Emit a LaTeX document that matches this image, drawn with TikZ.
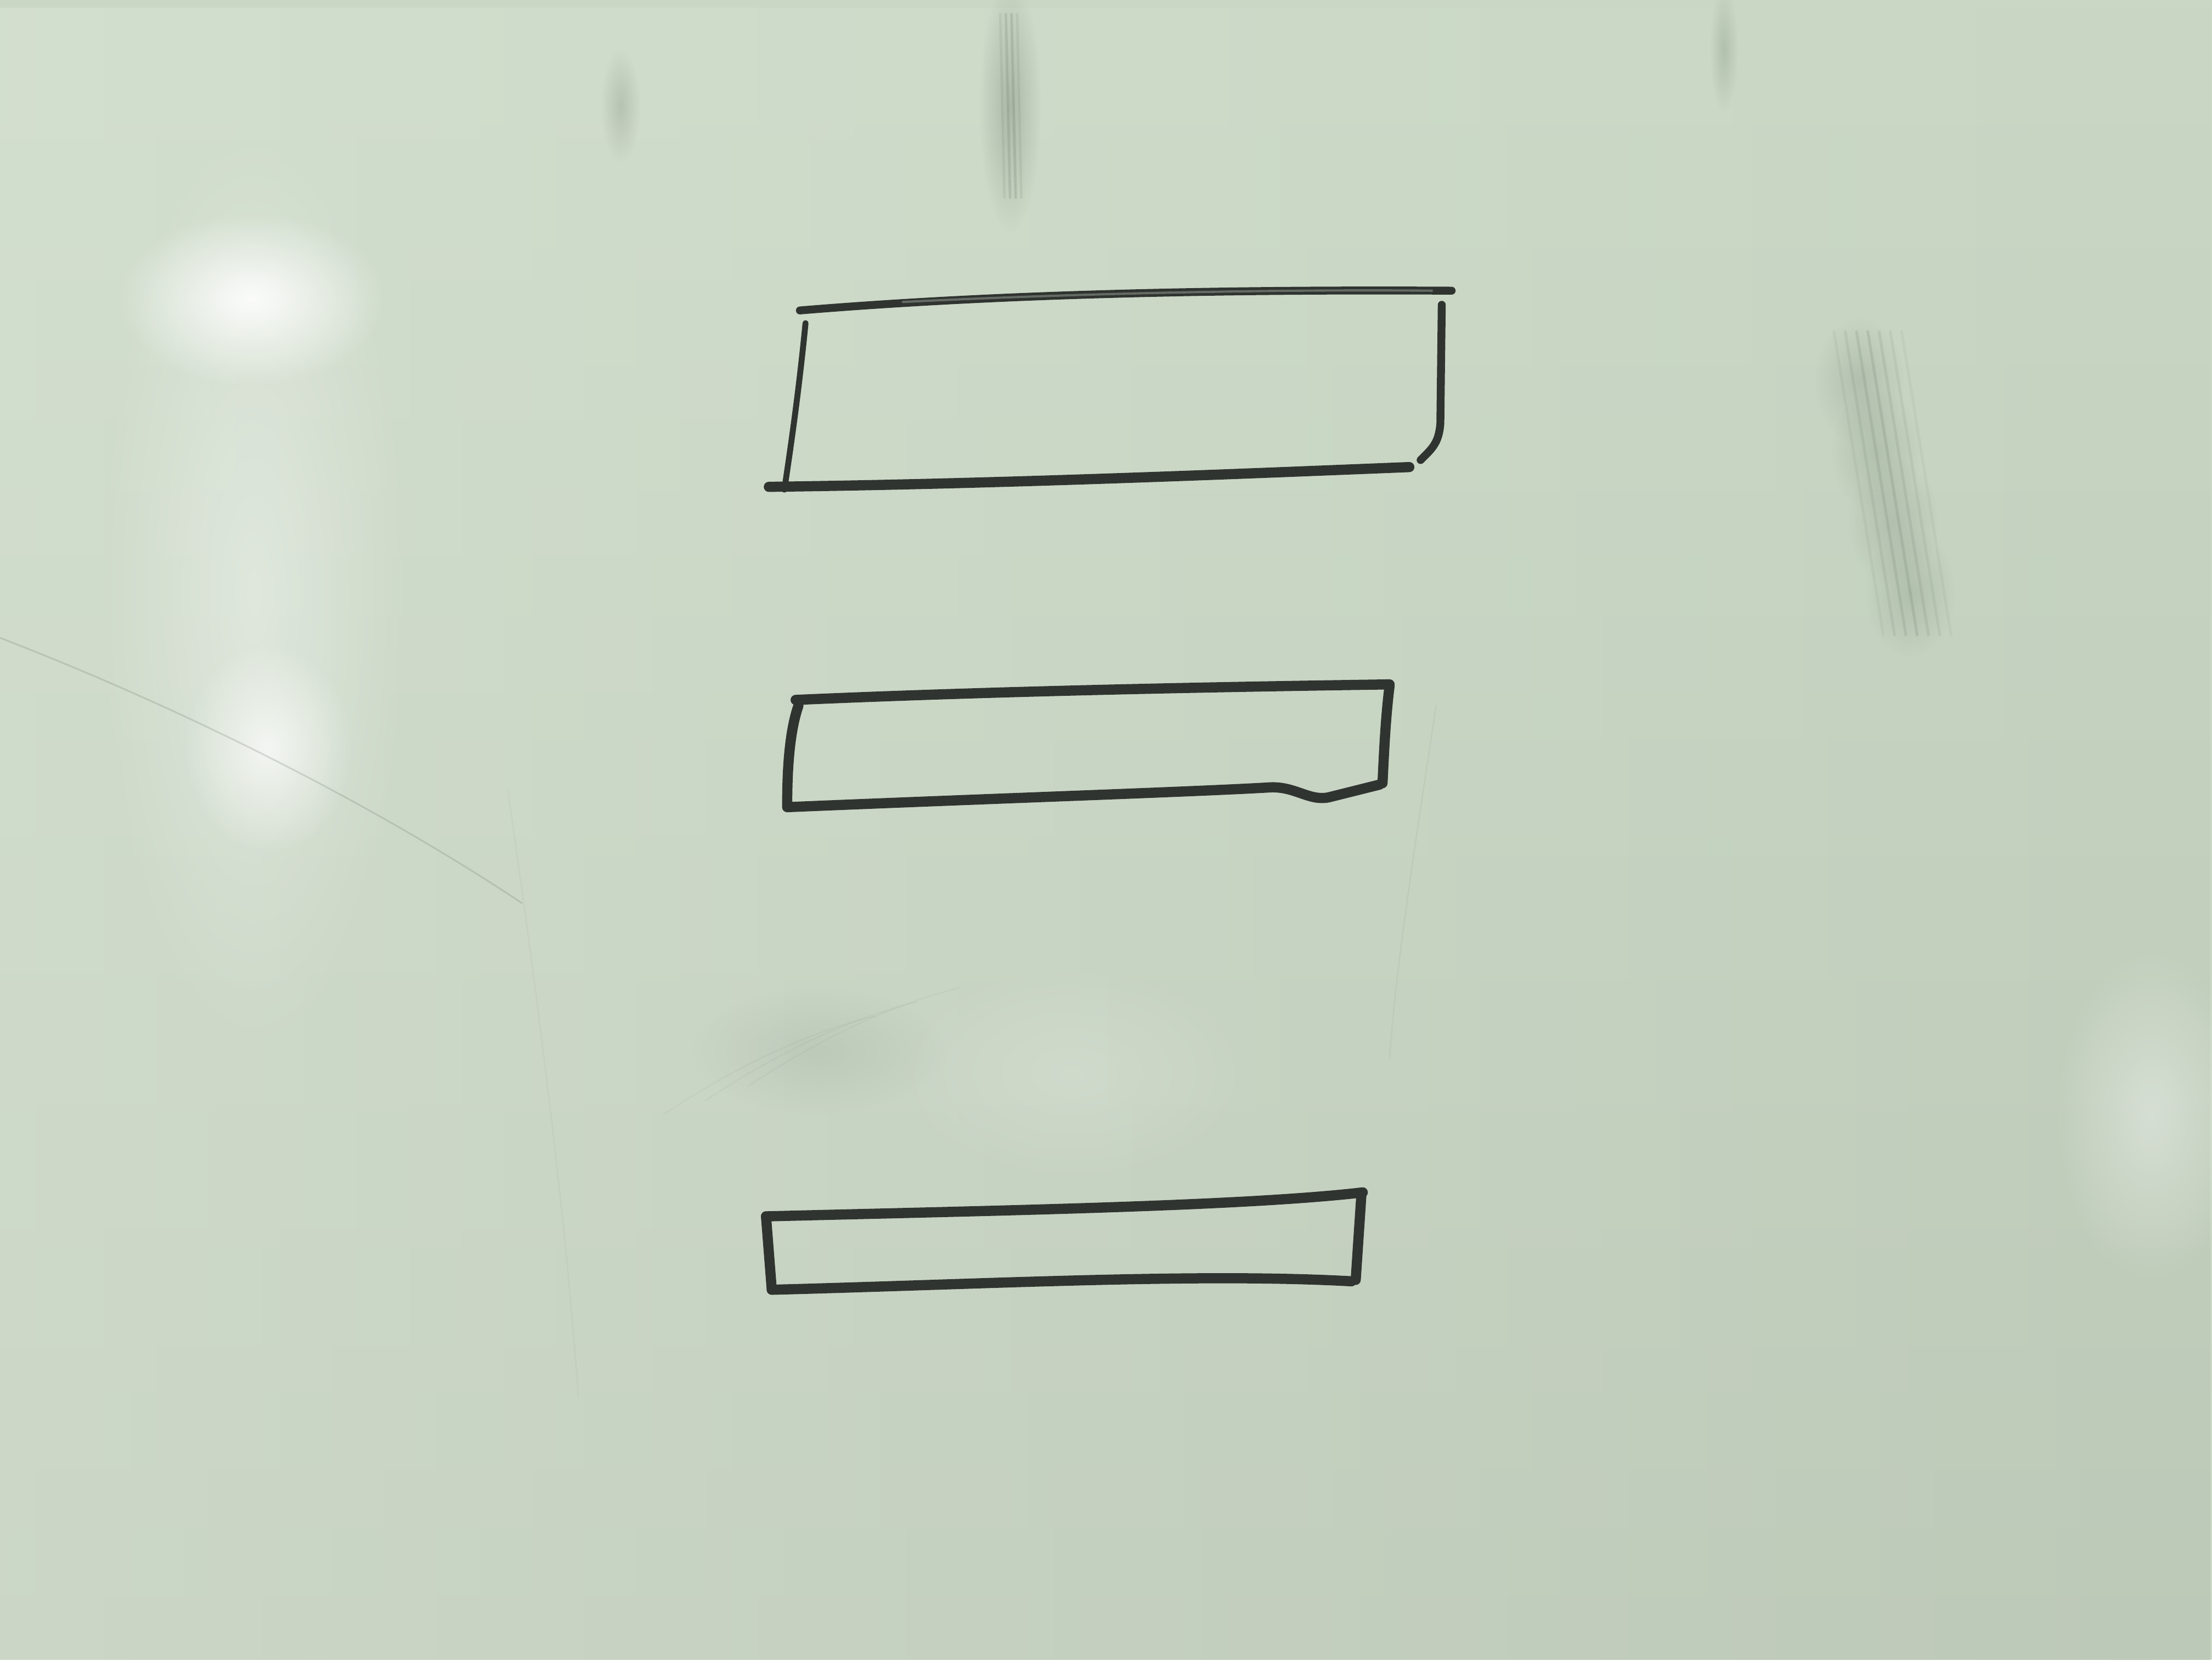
\documentclass[tikz,border=0pt]{standalone}
\usetikzlibrary{fadings}
\definecolor{board}{RGB}{201,215,196}
\definecolor{boardlight}{RGB}{232,240,228}
\definecolor{boarddark}{RGB}{186,198,181}
\definecolor{ink}{RGB}{48,52,48}
\definecolor{inkmid}{RGB}{100,106,100}
\definecolor{smear}{RGB}{105,118,104}
\tikzfading[name=softglow,inner color=transparent!0,outer color=transparent!100]
\begin{document}
\begin{tikzpicture}[x=1mm,y=-1mm,
  pen/.style={draw=ink,line width=7.2mm,line cap=round,line join=round},
  thinpen/.style={draw=ink,line width=5.6mm,line cap=round,line join=round},
  glare/.style={fill=white,opacity=#1,path fading=softglow},
  smudge/.style={draw=smear,line cap=round,opacity=#1},
  haze/.style={fill=smear,opacity=#1,path fading=softglow}]
\useasboundingbox (0,0) rectangle (1568,1176);
% whiteboard background
\fill[board] (0,0) rectangle (1568,1176);
\fill[boarddark,path fading=north,opacity=.8] (0,0) rectangle (1568,1176);
\fill[boardlight,path fading=east,opacity=.35] (0,0) rectangle (1568,1176);
% glare patches
\fill[glare=.35] (180,420) ellipse (110 and 330);
\fill[glare=.9] (178,212) ellipse (95 and 62);
\fill[glare=.7] (190,530) ellipse (60 and 75);
\fill[glare=.35] (1525,790) ellipse (70 and 120);
\fill[glare=.15] (760,760) ellipse (130 and 80);
% eraser smears and faint scratches
\fill[haze=.35] (716,75) ellipse (22 and 90);
\foreach \dx/\op in {-5/.12,-1/.2,3/.22,7/.12}
  \draw[smudge=\op,line width=1.8mm] (714+\dx,10) -- (717+\dx,140);
\foreach \cx/\cy in {1318/270,1330/320,1342/370,1354/420}
  \fill[haze=.22] (\cx,\cy) ellipse (32 and 45);
\foreach \dx/\op in {0/.08,8/.12,16/.16,24/.18,32/.14,40/.1,48/.07}
  \draw[smudge=\op,line width=2mm] (1300+\dx,235) -- (1335+\dx,450);
\fill[haze=.25] (1222,35) ellipse (10 and 45);
\fill[haze=.25] (440,75) ellipse (14 and 40);
\fill[haze=.12] (580,745) ellipse (90 and 45);
\foreach \a/\b in {470/790,500/780,530/770}
  \draw[smudge=.07,line width=.8mm] (\a,\b) .. controls (\a+60,\b-40) and (\a+110,\b-60) .. (\a+150,\b-70);
\draw[smudge=.22,line width=1.2mm] (0,452) .. controls (150,510) and (280,580) .. (370,640);
\draw[smudge=.08,line width=1mm] (1018,500) .. controls (1003,600) and (990,680) .. (985,750);
\draw[smudge=.06,line width=1mm] (360,560) .. controls (380,700) and (400,850) .. (410,990);
% rectangle 1
\draw[thinpen] (567,220) .. controls (700,209) and (850,205) .. (1029,206);
\draw[inkmid,line width=1.6mm,line cap=round] (640,214) .. controls (760,208) and (900,205) .. (1015,206);
\draw[draw=ink,line width=4.2mm,line cap=round] (571,229) .. controls (566,280) and (560,320) .. (556,347);
\draw[pen] (545,345) .. controls (700,343) and (850,337) .. (999,331);
\draw[thinpen] (1022,216) -- (1021,300) .. controls (1020,314) and (1015,318) .. (1007,326);
% rectangle 2
\draw[pen] (564,496) .. controls (700,490) and (850,487) .. (985,485);
\draw[pen] (566,500) .. controls (559,520) and (558,550) .. (558,571);
\draw[pen] (558,572) .. controls (700,566) and (850,561) .. (900,558) .. controls (918,557) and (928,568) .. (942,565) -- (978,556);
\draw[pen] (985,486) .. controls (982,510) and (981,535) .. (980,555);
% rectangle 3
\draw[pen] (543,862) .. controls (700,858) and (880,855) .. (966,845);
\draw[pen] (543,862) -- (547,913);
\draw[pen] (547,914) .. controls (700,910) and (850,902) .. (958,908);
\draw[pen] (965,847) -- (961,907);
\end{tikzpicture}
\end{document}
